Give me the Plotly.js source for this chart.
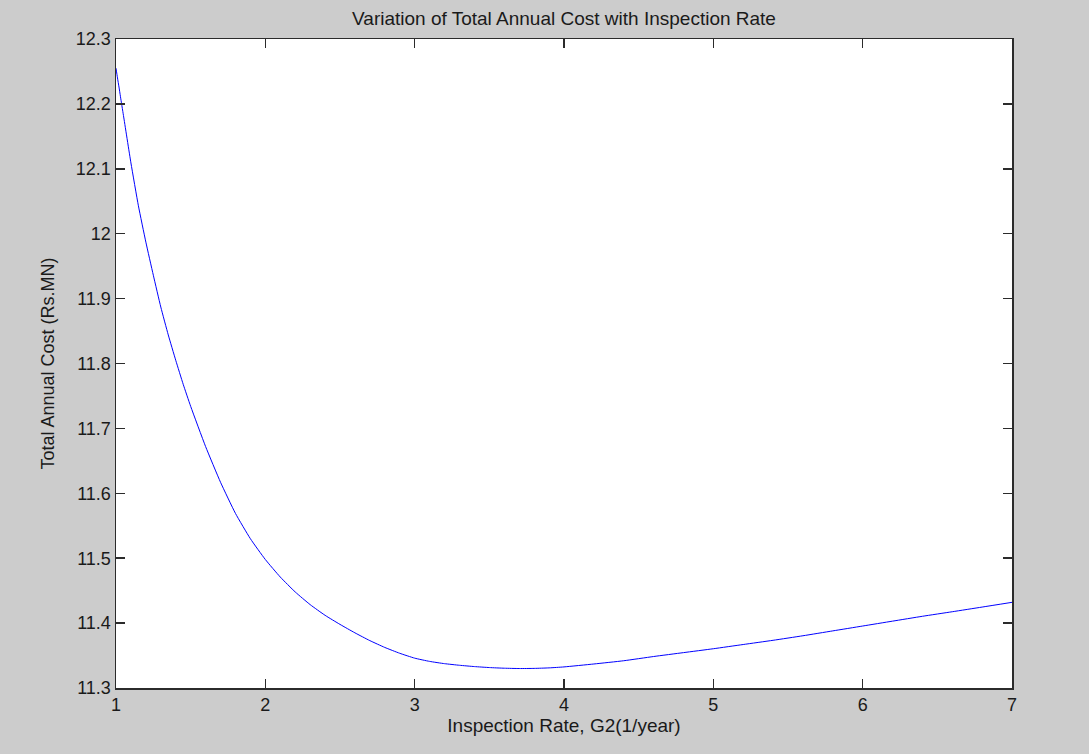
<!DOCTYPE html>
<html>
<head>
<meta charset="utf-8">
<script src="https://cdn.plot.ly/plotly-3.0.1.min.js"></script>
<style>html,body{margin:0;padding:0;background:#cccccc;}#chart{width:1089px;height:754px;}</style>
</head>
<body>
<div id="chart"></div>
<script>
var inspectionRate = [1.0, 1.01, 1.02, 1.03, 1.05, 1.1, 1.15, 1.2, 1.25, 1.3, 1.35, 1.4, 1.45, 1.5, 1.6, 1.7, 1.8, 1.9, 2.0, 2.1, 2.2, 2.3, 2.4, 2.5, 2.6, 2.7, 2.8, 2.9, 3.0, 3.1, 3.2, 3.3, 3.4, 3.5, 3.6, 3.7, 3.8, 3.9, 4.0, 4.2, 4.4, 4.6, 4.8, 5.0, 5.2, 5.4, 5.6, 5.8, 6.0, 6.2, 6.4, 6.6, 6.8, 7.0];
var totalCost = [12.255, 12.240, 12.226, 12.211, 12.182, 12.109, 12.043, 11.987, 11.936, 11.887, 11.844, 11.805, 11.768, 11.734, 11.672, 11.617, 11.569, 11.530, 11.498, 11.471, 11.448, 11.4285, 11.412, 11.398, 11.385, 11.373, 11.3625, 11.3535, 11.346, 11.341, 11.3375, 11.335, 11.333, 11.3315, 11.3305, 11.330, 11.3302, 11.331, 11.3325, 11.337, 11.342, 11.3485, 11.3545, 11.3605, 11.367, 11.3735, 11.3805, 11.388, 11.3955, 11.403, 11.4105, 11.4175, 11.4247, 11.432];
var xTickVals = [1, 2, 3, 4, 5, 6, 7];
var yTickVals = [11.3, 11.4, 11.5, 11.6, 11.7, 11.8, 11.9, 12, 12.1, 12.2, 12.3];
var yTickText = ["11.3", "11.4", "11.5", "11.6", "11.7", "11.8", "11.9", "12", "12.1", "12.2", "12.3"];
var titleText = "Variation of Total Annual Cost with Inspection Rate";
var xTitle = "Inspection Rate, G2(1/year)";
var yTitle = "Total Annual Cost (Rs.MN)";

var font = "Liberation Sans, Arial, sans-serif";
var txt = "#1a1a1a";
var trace = {
  x: inspectionRate, y: totalCost, type: "scatter", mode: "lines",
  line: {color: "#0000ff", width: 1, shape: "spline", smoothing: 0.5},
  hoverinfo: "skip", showlegend: false
};
var axisCommon = {
  showline: true, linecolor: "#2b2b2b", linewidth: 1.5, mirror: "ticks",
  ticks: "inside", ticklen: 9, tickcolor: "#2b2b2b", tickwidth: 1.5,
  showgrid: false, zeroline: false,
  tickfont: {family: font, size: 18, color: txt}
};
var layout = {
  width: 1089, height: 754,
  paper_bgcolor: "#cccccc", plot_bgcolor: "#ffffff",
  margin: {l: 116, r: 77, t: 39, b: 66},
  title: {text: titleText, font: {family: font, size: 19, color: txt}, xref: "paper", x: 0.5, xanchor: "center", y: 0.976, yanchor: "middle"},
  xaxis: Object.assign({}, axisCommon, {range: [1, 7], tickmode: "array", tickvals: xTickVals,
    title: {text: xTitle, font: {family: font, size: 19, color: txt}, standoff: 4}}),
  yaxis: Object.assign({}, axisCommon, {range: [11.3, 12.3], tickmode: "array", tickvals: yTickVals, ticktext: yTickText,
    title: {text: yTitle, font: {family: font, size: 18, color: txt}, standoff: 16}})
};
Plotly.newPlot("chart", [trace], layout, {displayModeBar: false, staticPlot: true});
</script>
</body>
</html>
